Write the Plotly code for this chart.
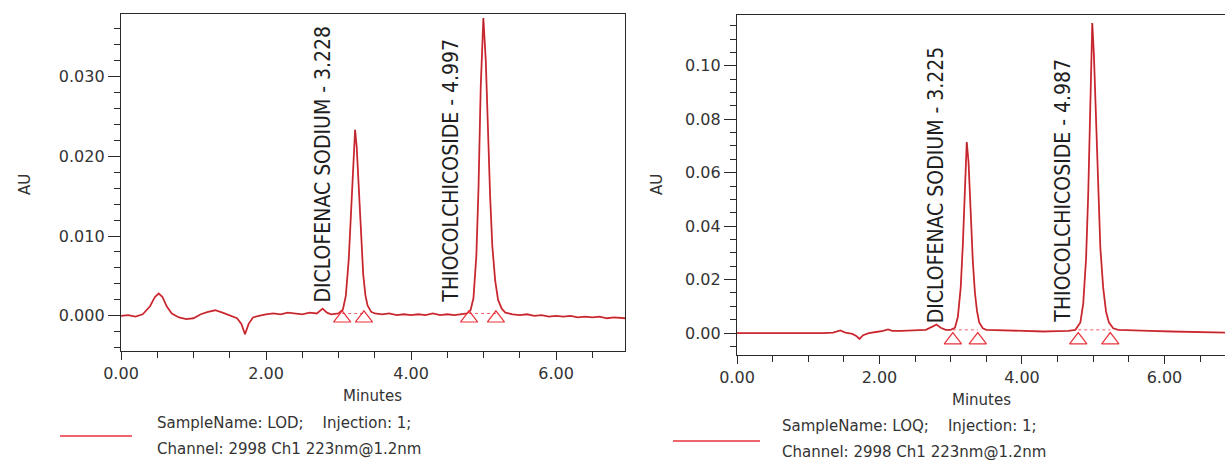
import plotly.graph_objects as go

# ---------------- data ----------------
lod_time = [0.00, 0.10, 0.20, 0.30, 0.40, 0.47, 0.52, 0.57, 0.63, 0.70, 0.80, 0.90, 1.00,
            1.10, 1.20, 1.30, 1.40, 1.50, 1.60, 1.66, 1.71, 1.76, 1.82, 1.90, 2.00, 2.10,
            2.20, 2.30, 2.40, 2.50, 2.60, 2.70, 2.78, 2.84, 2.90, 3.00, 3.06, 3.10, 3.14,
            3.17, 3.20, 3.228, 3.25, 3.28, 3.31, 3.34, 3.37, 3.40, 3.45, 3.50, 3.60, 3.70,
            3.80, 3.90, 4.00, 4.10, 4.20, 4.30, 4.40, 4.50, 4.60, 4.70, 4.77, 4.82, 4.86,
            4.90, 4.93, 4.96, 4.997, 5.03, 5.06, 5.09, 5.12, 5.16, 5.20, 5.25, 5.30, 5.40,
            5.50, 5.60, 5.70, 5.80, 5.90, 6.00, 6.10, 6.20, 6.30, 6.40, 6.50, 6.60, 6.70,
            6.80, 6.95]
lod_au = [0.0000, 0.0001, -0.0001, 0.0002, 0.0012, 0.0024, 0.0028, 0.0024, 0.0012, 0.0003,
          -0.0002, -0.0004, -0.0003, 0.0002, 0.0005, 0.0007, 0.0004, 0.0000, -0.0003, -0.0010,
          -0.0023, -0.0010, -0.0002, 0.0000, 0.0002, 0.0003, 0.0002, 0.0004, 0.0003, 0.0002,
          0.0004, 0.0003, 0.0009, 0.0004, 0.0002, 0.0003, 0.0008, 0.0025, 0.0070, 0.0130,
          0.0195, 0.0233, 0.0212, 0.0155, 0.0095, 0.0052, 0.0026, 0.0013, 0.0005, 0.0003,
          0.0002, 0.0003, 0.0001, 0.0002, 0.0001, 0.0002, 0.0001, 0.0003, 0.0001, 0.0002,
          0.0001, 0.0002, 0.0003, 0.0007, 0.0022, 0.0075, 0.0160, 0.0285, 0.0373, 0.0320,
          0.0230, 0.0150, 0.0088, 0.0044, 0.0020, 0.0009, 0.0004, 0.0002, 0.0001, 0.0002,
          0.0000, 0.0001, -0.0001, 0.0000, -0.0001, 0.0000, -0.0002, -0.0001, -0.0002,
          -0.0001, -0.0003, -0.0002, -0.0003]

loq_time = [0.00, 0.20, 0.40, 0.60, 0.80, 1.00, 1.20, 1.35, 1.45, 1.52, 1.62, 1.68, 1.72,
            1.77, 1.85, 1.95, 2.05, 2.12, 2.18, 2.30, 2.50, 2.65, 2.75, 2.80, 2.86, 2.93,
            3.00, 3.06, 3.10, 3.14, 3.17, 3.20, 3.225, 3.25, 3.28, 3.31, 3.34, 3.37, 3.40,
            3.45, 3.50, 3.70, 3.90, 4.10, 4.30, 4.50, 4.65, 4.75, 4.82, 4.86, 4.90, 4.93,
            4.96, 4.987, 5.01, 5.04, 5.07, 5.10, 5.14, 5.18, 5.22, 5.28, 5.35, 5.50, 5.80,
            6.10, 6.40, 6.85]
loq_au = [0.0000, 0.0000, -0.0001, 0.0000, 0.0000, -0.0001, 0.0000, 0.0002, 0.0010, 0.0002,
          -0.0003, -0.0012, -0.0022, -0.0008, 0.0000, 0.0004, 0.0008, 0.0014, 0.0008, 0.0008,
          0.0010, 0.0012, 0.0025, 0.0032, 0.0020, 0.0012, 0.0012, 0.0020, 0.0060, 0.0170,
          0.0330, 0.0560, 0.0715, 0.0640, 0.0450, 0.0270, 0.0150, 0.0080, 0.0040, 0.0018,
          0.0012, 0.0010, 0.0008, 0.0008, 0.0006, 0.0007, 0.0008, 0.0012, 0.0040, 0.0110,
          0.0280, 0.0520, 0.0880, 0.1160, 0.1040, 0.0780, 0.0520, 0.0320, 0.0170, 0.0080,
          0.0040, 0.0018, 0.0012, 0.0010, 0.0008, 0.0006, 0.0004, 0.0002]

# integration marks (peak start / end)
lod_marks_t = [3.05, 3.35, 4.80, 5.17]
lod_marks_au = [-0.0003, -0.0003, -0.0003, -0.0003]
loq_marks_t = [3.03, 3.38, 4.79, 5.24]
loq_marks_au = [-0.0026, -0.0026, -0.0026, -0.0026]

lod_peak_names = ["DICLOFENAC SODIUM - 3.228", "THIOCOLCHICOSIDE - 4.997"]
lod_label_t = [2.79, 4.55]
loq_peak_names = ["DICLOFENAC SODIUM - 3.225", "THIOCOLCHICOSIDE - 4.987"]
loq_label_t = [2.79, 4.57]

lod_legend = ["SampleName: LOD;&nbsp;&nbsp;&nbsp;&nbsp;Injection: 1;", "Channel: 2998 Ch1 223nm@1.2nm"]
loq_legend = ["SampleName: LOQ;&nbsp;&nbsp;&nbsp;&nbsp;Injection: 1;", "Channel: 2998 Ch1 223nm@1.2nm"]

x_tick_vals = [0, 2, 4, 6]
x_tick_text = ["0.00", "2.00", "4.00", "6.00"]
lod_y_ticks = [0.000, 0.010, 0.020, 0.030]
lod_y_text = ["0.000", "0.010", "0.020", "0.030"]
loq_y_ticks = [0.00, 0.02, 0.04, 0.06, 0.08, 0.10]
loq_y_text = ["0.00", "0.02", "0.04", "0.06", "0.08", "0.10"]

# ---------------- styling ----------------
W, H = 1225, 460
RED = "#e8323c"
DARK = "#5a1a1a"
AXC = "#2a2a2a"
TXT = "#333333"
TICKFONT = dict(family="DejaVu Sans, Arial, sans-serif", size=16, color=TXT)
LABFONT = dict(family="Liberation Sans Narrow, DejaVu Sans Condensed, Arial Narrow, sans-serif",
               size=21, color="#1e1e1e")
LEGFONT = dict(family="DejaVu Sans, Arial, sans-serif", size=15, color=TXT)

def px_x(p):
    return p / W

def px_y(p):
    return 1 - p / H

fig = go.Figure()

panels = [
    dict(xa="x", ya="y", t=lod_time, v=lod_au, mt=lod_marks_t, mv=lod_marks_au, bl=0.0003),
    dict(xa="x2", ya="y2", t=loq_time, v=loq_au, mt=loq_marks_t, mv=loq_marks_au, bl=0.0012),
]
for p in panels:
    fig.add_trace(go.Scatter(x=p["t"], y=p["v"], mode="lines", xaxis=p["xa"], yaxis=p["ya"],
                             line=dict(color=RED, width=1.8), showlegend=False, hoverinfo="skip"))
    fig.add_trace(go.Scatter(x=p["t"], y=p["v"], mode="lines", xaxis=p["xa"], yaxis=p["ya"],
                             line=dict(color=DARK, width=0.6), opacity=0.6, showlegend=False,
                             hoverinfo="skip"))
    # integration baselines
    for i in (0, 2):
        fig.add_trace(go.Scatter(x=[p["mt"][i], p["mt"][i + 1]], y=[p["bl"], p["bl"]],
                                 mode="lines", xaxis=p["xa"], yaxis=p["ya"],
                                 line=dict(color=RED, width=0.8, dash="dot"),
                                 showlegend=False, hoverinfo="skip"))
    fig.add_trace(go.Scatter(x=p["mt"], y=p["mv"], mode="markers", xaxis=p["xa"], yaxis=p["ya"],
                             marker=dict(symbol="triangle-up-open", size=15,
                                         line=dict(color=RED, width=1.2), color=RED),
                             showlegend=False, hoverinfo="skip"))

common_x = dict(showline=True, linecolor=AXC, linewidth=1.4, mirror=True, ticks="outside",
                ticklen=8, tickcolor=AXC, tickwidth=1.3, tickfont=TICKFONT, showgrid=False,
                zeroline=False, tickvals=x_tick_vals, ticktext=x_tick_text, automargin=False,
                minor=dict(dtick=0.5, tick0=0, ticks="outside", ticklen=6, tickcolor=AXC,
                           tickwidth=1.2, showgrid=False))
common_y = dict(showline=True, linecolor=AXC, linewidth=1.4, ticks="outside", ticklen=12,
                tickcolor=AXC, tickwidth=1.3, tickfont=TICKFONT, showgrid=False, zeroline=False,
                automargin=False)

fig.update_layout(
    width=W, height=H, margin=dict(l=0, r=0, t=0, b=0, autoexpand=False),
    paper_bgcolor="white", plot_bgcolor="white",
    xaxis=dict(domain=[px_x(121), px_x(625)], range=[0, 6.95], anchor="y", **common_x),
    yaxis=dict(domain=[px_y(351), px_y(14)], range=[-0.0044, 0.0378], anchor="x", mirror=True,
               tickvals=lod_y_ticks, ticktext=lod_y_text,
               minor=dict(dtick=0.002, tick0=0, ticks="outside", ticklen=6, tickcolor=AXC,
                          tickwidth=1.2, showgrid=False), **common_y),
    xaxis2=dict(domain=[px_x(737), 1.0], range=[0, 6.85], anchor="y2", **common_x),
    yaxis2=dict(domain=[px_y(355), px_y(15)], range=[-0.0082, 0.119], anchor="x2", mirror=False,
                tickvals=loq_y_ticks, ticktext=loq_y_text,
                minor=dict(dtick=0.005, tick0=0, ticks="outside", ticklen=6, tickcolor=AXC,
                           tickwidth=1.2, showgrid=False), **common_y),
)

ann = []
# peak labels
for name, t in zip(lod_peak_names, lod_label_t):
    ann.append(dict(x=t, y=0.0014, xref="x", yref="y", text=name, textangle=-90,
                    showarrow=False, xanchor="center", yanchor="bottom", font=LABFONT))
for name, t in zip(loq_peak_names, loq_label_t):
    ann.append(dict(x=t, y=0.0030, xref="x2", yref="y2", text=name, textangle=-90,
                    showarrow=False, xanchor="center", yanchor="bottom", font=LABFONT))

# axis titles
for xp, yp in [(25, 184), (657, 185)]:
    ann.append(dict(x=px_x(xp), y=px_y(yp), xref="paper", yref="paper", text="AU",
                    textangle=-90, showarrow=False, xanchor="center", yanchor="middle",
                    font=dict(family="DejaVu Sans, Arial, sans-serif", size=15, color=TXT)))
for xp, yp in [(372, 396), (982, 400)]:
    ann.append(dict(x=px_x(xp), y=px_y(yp), xref="paper", yref="paper", text="Minutes",
                    showarrow=False, xanchor="center", yanchor="middle",
                    font=dict(family="DejaVu Sans, Arial, sans-serif", size=15, color=TXT)))

# legends
shapes = []
for (x0, x1, ly, tx, ty1, ty2, lines) in [
    (60, 132, 436, 155, 423, 449, lod_legend),
    (673, 760, 441, 780, 426, 452, loq_legend),
]:
    shapes.append(dict(type="line", xref="paper", yref="paper", x0=px_x(x0), x1=px_x(x1),
                       y0=px_y(ly), y1=px_y(ly), line=dict(color=RED, width=1.5)))
    ann.append(dict(x=px_x(tx), y=px_y(ty1), xref="paper", yref="paper", text=lines[0],
                    showarrow=False, xanchor="left", yanchor="middle", font=LEGFONT))
    ann.append(dict(x=px_x(tx), y=px_y(ty2), xref="paper", yref="paper", text=lines[1],
                    showarrow=False, xanchor="left", yanchor="middle", font=LEGFONT))

fig.update_layout(annotations=ann, shapes=shapes)
fig.write_html("out.html")
